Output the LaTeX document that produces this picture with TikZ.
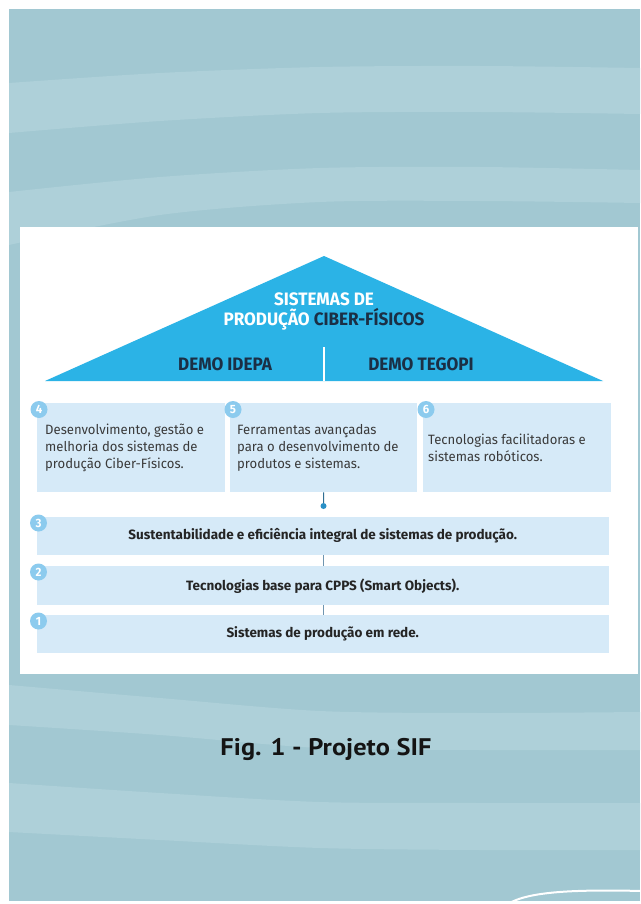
\documentclass[tikz,border=0pt]{standalone}
\usepackage{fontspec}
\setmainfont{Fira Sans}
\newfontfamily\headfont[FakeStretch=0.95]{Fira Sans}
\newfontfamily\bodyfont[FakeStretch=0.97]{Fira Sans}
\newfontfamily\barfont{Fira Sans}
\newfontfamily\capfont[FakeStretch=1.1]{PT Sans}
\usetikzlibrary{calc}
\definecolor{bgdark}{HTML}{A2C8D2}
\definecolor{bglight}{HTML}{AED0D9}
\definecolor{roof}{HTML}{2BB3E6}
\definecolor{navy}{HTML}{1B2F45}
\definecolor{boxfill}{HTML}{D6EAF8}
\definecolor{badge}{HTML}{8CCBEE}
\definecolor{txt}{HTML}{3A3A3A}
\definecolor{bartxt}{HTML}{252525}
\definecolor{conn}{HTML}{2F6E93}
\definecolor{connlight}{HTML}{6F95B0}
\definecolor{dotc}{HTML}{2A90C6}
\begin{document}
\begin{tikzpicture}[x=1pt,y=-1pt,
  tile/.style={rectangle, fill=boxfill, draw=none, inner sep=0pt, anchor=north west},
  badgecirc/.style={circle, fill=badge, text=white, inner sep=0pt, minimum size=17pt,
    font=\headfont\bfseries\fontsize{12}{12}\selectfont},
  tiletext/.style={anchor=west, align=left, inner sep=0pt, text=txt,
    font=\bodyfont\fontsize{13.5}{17}\selectfont},
  bartext/.style={inner sep=0pt, text=bartxt, font=\barfont\bfseries\fontsize{13.5}{15}\selectfont},
  headtext/.style={anchor=base, inner sep=0pt, font=\headfont\bfseries\fontsize{18}{20}\selectfont},
]
\useasboundingbox (0,0) rectangle (640,904);
\fill[white] (0,0) rectangle (640,904);
% background
\begin{scope}
\clip (9,9) rectangle (640,901);
\fill[bgdark] (9,9) rectangle (640,901);
\fill[bglight] plot[smooth] coordinates {(9,83) (160,73) (320,67) (480,66) (640,68)}
  -- plot[smooth] coordinates {(640,114) (480,112) (320,113) (160,121) (9,133)} -- cycle;
\fill[bglight] plot[smooth] coordinates {(9,192) (160,177) (320,168) (480,167) (640,170)}
  -- plot[smooth] coordinates {(640,203) (480,201) (320,202) (160,215) (9,245)} -- cycle;
\fill[bglight] plot[smooth] coordinates {(9,685) (160,698) (320,711) (480,713) (640,712)}
  -- plot[smooth] coordinates {(640,750) (480,750) (320,748) (160,735) (9,725)} -- cycle;
\fill[bglight] plot[smooth] coordinates {(9,783) (160,793) (320,802) (480,803) (640,803)}
  -- plot[smooth] coordinates {(640,850) (480,850) (320,848) (160,840) (9,832)} -- cycle;
\draw[white, line width=2pt] (505,906) .. controls (522,893) and (562,889) .. (642,891);
\end{scope}
% panel
\fill[white] (20,227) rectangle (638,674);
% roof
\coordinate (rl) at (45,381);
\coordinate (ra) at (324,256);
\coordinate (rr) at (603,381);
\coordinate (dtop) at (324,347);
\fill[roof] (rl) -- (ra) -- (rr) -- cycle;
\draw[white, line width=2pt] (dtop) -- (dtop |- rl);
\node[headtext, text=white] (h1) at (324,305) {SISTEMAS DE};
\node[headtext, text=white] (h2) at (324,325.5) {PRODUÇÃO \textcolor{navy}{CIBER-FÍSICOS}};
\node[headtext, text=navy] (d1) at (225,370.5) {DEMO IDEPA};
\node[headtext, text=navy] (d2) at (421,370.5) {DEMO TEGOPI};
% tiles
\node[tile, minimum width=188pt, minimum height=89.5pt] (b4) at (37,402.5) {};
\node[tile, minimum width=187pt, minimum height=89.5pt] (b5) at (230,402.5) {};
\node[tile, minimum width=188pt, minimum height=89.5pt] (b6) at (423,402.5) {};
\node[tiletext] (t4) at ($(b4.west)+(8,0)$) {Desenvolvimento, gestão e\\melhoria dos sistemas de\\produção Ciber-Físicos.};
\node[tiletext] (t5) at ($(b5.west)+(7,0)$) {Ferramentas avançadas\\para o desenvolvimento de\\produtos e sistemas.};
\node[tiletext] (t6) at ($(b6.west)+(5,0)$) {Tecnologias facilitadoras e\\sistemas robóticos.};
% bars
\node[tile, minimum width=572pt, minimum height=38pt] (r3) at (36.5,517) {};
\node[tile, minimum width=572pt, minimum height=39pt] (r2) at (36.5,566) {};
\node[tile, minimum width=572pt, minimum height=38pt] (r1) at (36.5,615) {};
\node[bartext] (s3) at (r3.center) {Sustentabilidade e eficiência integral de sistemas de produção.};
\node[bartext] (s2) at (r2.center) {Tecnologias base para CPPS (Smart Objects).};
\node[bartext] (s1) at (r1.center) {Sistemas de produção em rede.};
% badges
\node[badgecirc] (n4) at ($(b4.north west)+(2,7)$) {4};
\node[badgecirc] (n5) at ($(b5.north west)+(3,7)$) {5};
\node[badgecirc] (n6) at ($(b6.north west)+(3,7)$) {6};
\node[badgecirc] (n3) at ($(r3.north west)+(2,6)$) {3};
\node[badgecirc] (n2) at ($(r2.north west)+(2,6)$) {2};
\node[badgecirc] (n1) at ($(r1.north west)+(2,6)$) {1};
% connectors
\node[circle, fill=dotc, inner sep=0pt, minimum size=6pt] (dot) at (323.5,506) {};
\draw[conn, line width=1pt] (b5.south) -- (dot);
\draw[connlight, line width=1pt] (r3.south -| dot) -- (r2.north -| dot);
\draw[connlight, line width=1pt] (r2.south -| dot) -- (r1.north -| dot);
% caption
\node[anchor=base, inner sep=0pt, text=black!92, font=\capfont\bfseries\fontsize{24}{27}\selectfont] (cap) at (326,755) {Fig. 1 - Projeto SIF};
\end{tikzpicture}
\end{document}
